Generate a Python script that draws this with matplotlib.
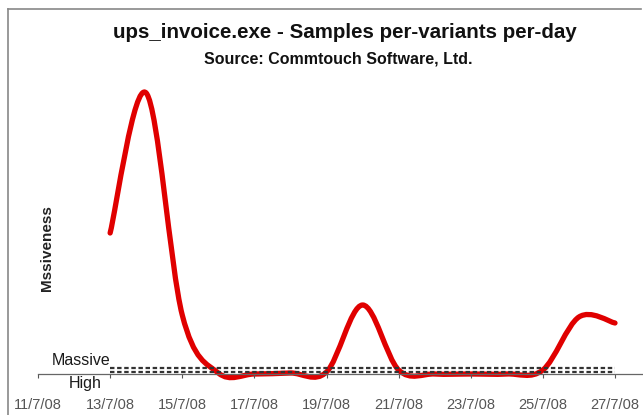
import numpy as np
from matplotlib import pyplot as plt
from matplotlib.path import Path
from matplotlib.patches import PathPatch
from matplotlib.lines import Line2D

#### data (day of July 2008, relative massiveness) ####
days = [13, 14, 15, 16, 17, 18, 19, 20, 21, 22, 23, 24, 25, 26, 27]
samples = [141, 281, 59, 1, 0, 1, 2, 69, 4, 0, 0, 0, 4, 57, 51]
tick_days = [11, 13, 15, 17, 19, 21, 23, 25, 27]
tick_labels = ['11/7/08', '13/7/08', '15/7/08', '17/7/08', '19/7/08',
               '21/7/08', '23/7/08', '25/7/08', '27/7/08']
massive_level = 6
high_level = 2
############################################################################

W, H = 643, 415
fig = plt.figure(figsize=(W / 100, H / 100), dpi=100)
plt.rcParams['font.family'] = ['Liberation Sans', 'DejaVu Sans']

ax = fig.add_axes([38 / W, 41 / H, 577 / W, 300 / H])
ax.set_xlim(11, 27)
ax.set_ylim(0, 300)
for s in ax.spines.values():
    s.set_visible(False)
ax.set_yticks([])
ax.set_xticks(tick_days)
ax.set_xticklabels(tick_labels, fontsize=10.5, color='#555555')
ax.tick_params(axis='x', direction='out', length=3, width=0.8, color='#555555', pad=14)

# axis line runs out to the right edge
ax.plot([11, 28], [0, 0], color='#666666', lw=0.9, clip_on=False)

# massive / high threshold lines
ax.plot([13, 27], [massive_level, massive_level], color='#333333', lw=1.6,
        ls=(0, (2, 1.2)), clip_on=False)
ax.plot([13, 27], [high_level, high_level], color='#333333', lw=1.6,
        ls=(0, (2, 1.2)), clip_on=False)
ax.text(13, massive_level, 'Massive', ha='right', va='bottom', fontsize=11.5, color='#1a1a1a')
ax.text(12.3, -2, 'High', ha='center', va='top', fontsize=11.5, color='#1a1a1a')

# smoothed line (Excel style bezier through the daily points)
pts = np.column_stack([days, samples]).astype(float)
verts = [pts[0]]
codes = [Path.MOVETO]
for i in range(len(pts) - 1):
    p0 = pts[i - 1] if i > 0 else pts[i]
    p1 = pts[i]
    p2 = pts[i + 1]
    p3 = pts[i + 2] if i + 2 < len(pts) else pts[i + 1]
    verts += [p1 + (p2 - p0) / 6, p2 - (p3 - p1) / 6, p2]
    codes += [Path.CURVE4] * 3
curve = PathPatch(Path(verts, codes), facecolor='none', edgecolor='#e00000',
                  lw=3.8, capstyle='round', joinstyle='round', clip_on=False)
ax.add_patch(curve)

fig.text(345 / W, 1 - 38 / H, 'ups_invoice.exe - Samples per-variants per-day',
         ha='center', va='baseline', fontsize=14.8, fontweight='bold', color='#111111')
fig.text(338 / W, 1 - 63 / H, 'Source: Commtouch Software, Ltd.',
         ha='center', va='baseline', fontsize=11.5, fontweight='bold', color='#111111')
fig.text(47 / W, 1 - 248 / H, 'Mssiveness', rotation=90, ha='center', va='center',
         fontsize=11, fontweight='bold', color='#222222')

# frame at top and left
fig.add_artist(Line2D([8 / W, 641 / W], [1 - 9 / H, 1 - 9 / H], color='#888888', lw=1.2))
fig.add_artist(Line2D([8 / W, 8 / W], [0, 1 - 9 / H], color='#888888', lw=1.2))

fig.savefig('out.png', dpi=100)
